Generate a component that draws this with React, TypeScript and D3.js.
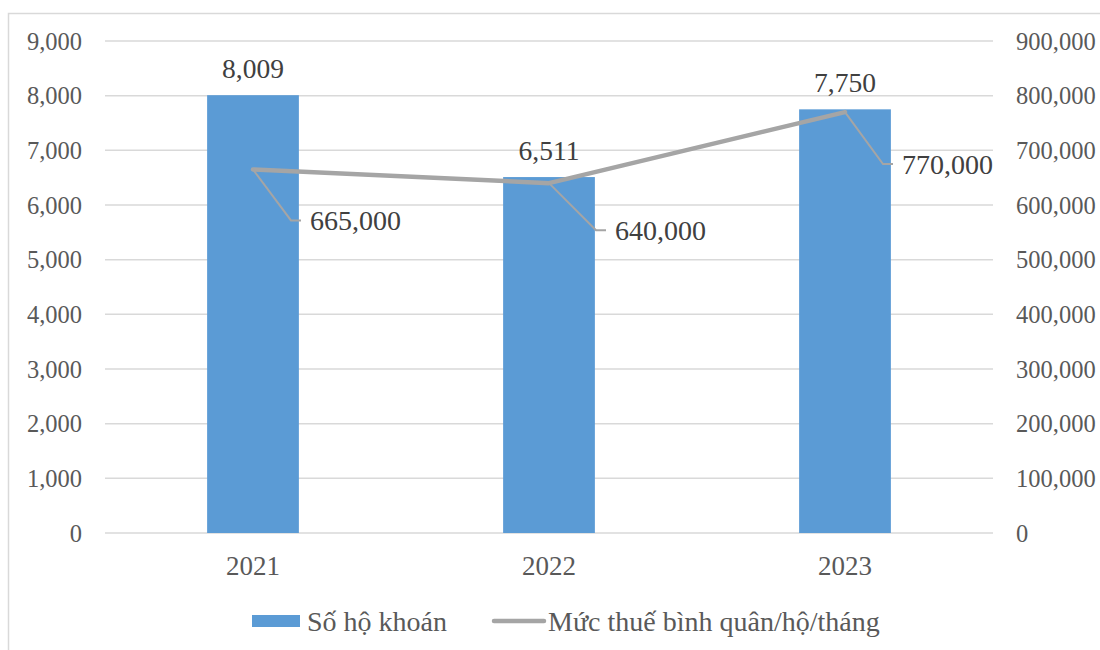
import React from "react";
import * as d3 from "d3";

// Yearly figures
const years = ["2021", "2022", "2023"];
const households = [8009, 6511, 7750]; // Số hộ khoán
const avgTax = [665000, 640000, 770000]; // Mức thuế bình quân/hộ/tháng
const leftTicks = [0, 1000, 2000, 3000, 4000, 5000, 6000, 7000, 8000, 9000];
const rightTicks = [0, 100000, 200000, 300000, 400000, 500000, 600000, 700000, 800000, 900000];
const legendLabels = ["Số hộ khoán", "Mức thuế bình quân/hộ/tháng"];
// label placement for the line values (dx, dy from the point)
const lineLabelOffsets: [number, number][] = [
  [57, 61],
  [66, 57],
  [57, 62],
];

const W = 1100;
const H = 650;
const plot = { left: 105, right: 993, top: 41, bottom: 533 };
const FONT = "'Liberation Serif', 'Times New Roman', serif";
const TEXT = "#595959";
const GRID = "#d9d9d9";
const BAR = "#5b9bd5";
const LINE = "#a5a5a5";

const fmt = d3.format(",");

export default function App() {
  const x = d3
    .scaleBand<string>()
    .domain(years)
    .range([plot.left, plot.right])
    .paddingInner(0.69)
    .paddingOuter(0.345);
  const yL = d3.scaleLinear().domain([0, 9000]).range([plot.bottom, plot.top]);
  const yR = d3.scaleLinear().domain([0, 900000]).range([plot.bottom, plot.top]);
  const cx = (d: string) => (x(d) ?? 0) + x.bandwidth() / 2;

  const linePath = d3
    .line<number>()
    .x((_, i) => cx(years[i]))
    .y((v) => yR(v))(avgTax);

  return (
    <svg
      width={W}
      height={H}
      style={{ position: "absolute", left: 0, top: 0, background: "#fff", fontFamily: FONT }}
    >
      <rect x={8.5} y={13.5} width={W + 20} height={H + 20} fill="#fff" stroke={GRID} strokeWidth={1.5} />

      {/* gridlines */}
      {leftTicks.map((t) => (
        <line
          key={t}
          x1={plot.left}
          x2={plot.right}
          y1={yL(t)}
          y2={yL(t)}
          stroke={GRID}
          strokeWidth={1.5}
        />
      ))}

      {/* left axis labels */}
      {leftTicks.map((t) => (
        <text
          key={"l" + t}
          x={82}
          y={yL(t)}
          dy="0.35em"
          textAnchor="end"
          fontSize={24.5}
          fill={TEXT}
        >
          {fmt(t)}
        </text>
      ))}

      {/* right axis labels */}
      {rightTicks.map((t) => (
        <text key={"r" + t} x={1016} y={yR(t)} dy="0.35em" textAnchor="start" fontSize={24.5} fill={TEXT}>
          {fmt(t)}
        </text>
      ))}

      {/* bars */}
      {years.map((yr, i) => (
        <rect
          key={yr}
          x={x(yr)}
          y={yL(households[i])}
          width={x.bandwidth()}
          height={plot.bottom - yL(households[i])}
          fill={BAR}
        />
      ))}

      {/* bar value labels */}
      {years.map((yr, i) => (
        <text
          key={"bv" + yr}
          x={cx(yr)}
          y={yL(households[i]) - 17}
          textAnchor="middle"
          fontSize={27.5}
          fill="#404040"
        >
          {fmt(households[i])}
        </text>
      ))}

      {/* line series */}
      <path d={linePath ?? ""} fill="none" stroke={LINE} strokeWidth={4.5} strokeLinejoin="round" strokeLinecap="round" />

      {/* line value labels with leader lines */}
      {years.map((yr, i) => {
        const px = cx(yr);
        const py = yR(avgTax[i]);
        const [dx, dy] = lineLabelOffsets[i];
        const lx = px + dx;
        const ly = py + dy;
        const ey = ly - 10;
        return (
          <g key={"lv" + yr}>
            <polyline
              points={`${px},${py} ${lx - 19},${ey} ${lx - 9},${ey}`}
              fill="none"
              stroke={LINE}
              strokeWidth={2}
            />
            <text x={lx} y={ly} fontSize={28} fill="#404040">
              {fmt(avgTax[i])}
            </text>
          </g>
        );
      })}

      {/* category labels */}
      {years.map((yr) => (
        <text key={"c" + yr} x={cx(yr)} y={575} textAnchor="middle" fontSize={27} fill={TEXT}>
          {yr}
        </text>
      ))}

      {/* legend */}
      <rect x={252} y={615} width={48} height={12} fill={BAR} />
      <text x={307} y={631} fontSize={28} fill={TEXT}>
        {legendLabels[0]}
      </text>
      <line x1={494} x2={544} y1={621} y2={621} stroke={LINE} strokeWidth={4.5} strokeLinecap="round" />
      <text x={548} y={631} fontSize={28} fill={TEXT}>
        {legendLabels[1]}
      </text>
    </svg>
  );
}
